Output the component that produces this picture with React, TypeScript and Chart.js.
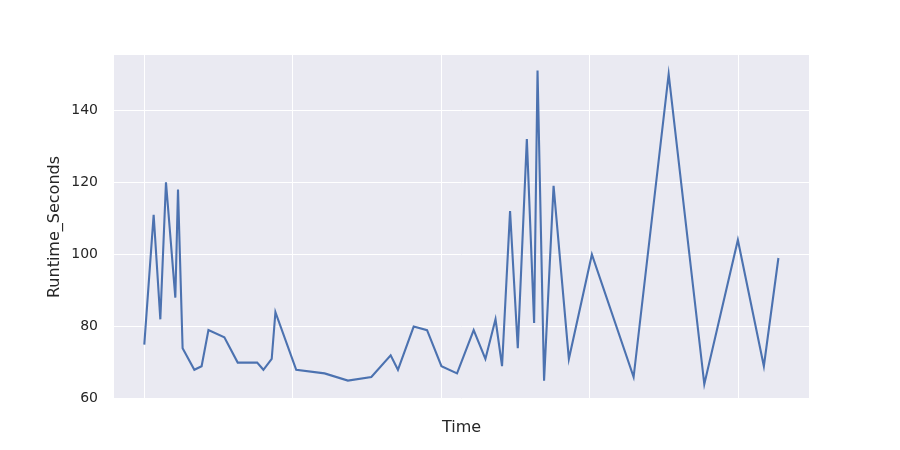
import { useEffect, useRef } from "react";
import { Chart, registerables } from "chart.js";

Chart.register(...registerables);

// time offsets (gridlines every 10 units) and runtimes
const timeOffsets = [
  0, 0.63, 1.08, 1.46, 2.09, 2.27, 2.58, 3.37, 3.86, 4.32,
  5.39, 6.29, 7.6, 8.02, 8.58, 8.83, 10.23, 12.14, 13.71, 15.29,
  16.59, 17.08, 18.14, 19.04, 20.01, 21.06, 22.18, 22.97, 23.65, 24.09,
  24.63, 25.15, 25.76, 26.25, 26.48, 26.92, 27.56, 28.59, 30.14, 32.95,
  35.31, 37.71, 39.97, 41.72, 42.7,
];
const runtimeSeconds = [
  75, 111, 82, 120, 88, 118, 74, 68, 69, 79,
  77, 70, 70, 68, 71, 84, 68, 67, 65, 66,
  72, 68, 80, 79, 69, 67, 79, 71, 82, 69,
  112, 74, 132, 81, 151, 65, 119, 71, 100, 66,
  150, 64, 104, 69, 99,
];
const yTicks = [60, 80, 100, 120, 140];

const FONT = "'DejaVu Sans', sans-serif";
const TEXT = "#262626";

const plotBackground = {
  id: "plotBackground",
  beforeDraw(chart: any) {
    const { ctx, chartArea } = chart;
    ctx.save();
    ctx.fillStyle = "#EAEAF2";
    ctx.fillRect(chartArea.left, chartArea.top, chartArea.right - chartArea.left, chartArea.bottom - chartArea.top);
    ctx.restore();
  },
};

export default function App() {
  const canvasRef = useRef<HTMLCanvasElement | null>(null);

  useEffect(() => {
    if (!canvasRef.current) return;
    const chart = new Chart(canvasRef.current, {
      type: "line",
      data: {
        datasets: [
          {
            label: "Runtime_Seconds",
            data: timeOffsets.map((t, i) => ({ x: t, y: runtimeSeconds[i] })),
            borderColor: "#4C72B0",
            borderWidth: 2.1,
            pointRadius: 0,
            tension: 0,
            fill: false,
          },
        ],
      },
      options: {
        responsive: false,
        animation: false,
        layout: { padding: { left: 0, top: 55, right: 91, bottom: 0 } },
        plugins: { legend: { display: false }, tooltip: { enabled: false } },
        scales: {
          x: {
            type: "linear",
            min: -2.04,
            max: 44.76,
            afterFit: (scale: any) => {
              scale.height = 51;
            },
            ticks: { display: false, stepSize: 10, includeBounds: false },
            grid: { color: "#ffffff", lineWidth: 1, drawTicks: false },
            border: { display: false },
            title: {
              display: true,
              text: "Time",
              color: TEXT,
              font: { family: FONT, size: 16 },
              padding: { top: 0, bottom: 12.4 },
            },
          },
          y: {
            min: 59.9,
            max: 155.3,
            afterFit: (scale: any) => {
              scale.width = 114;
            },
            afterBuildTicks: (scale: any) => {
              scale.ticks = yTicks.map((v) => ({ value: v }));
            },
            ticks: {
              color: TEXT,
              font: { family: FONT, size: 14 },
              padding: 16,
            },
            grid: { color: "#ffffff", lineWidth: 1, drawTicks: false },
            border: { display: false },
            title: {
              display: true,
              text: "Runtime_Seconds",
              color: TEXT,
              font: { family: FONT, size: 16 },
              padding: { top: 45.4, bottom: 0 },
            },
          },
        },
      },
      plugins: [plotBackground],
    });
    return () => chart.destroy();
  }, []);

  return (
    <div style={{ position: "absolute", left: 0, top: 0, width: 900, height: 450, background: "#ffffff" }}>
      <canvas ref={canvasRef} width={900} height={450} />
    </div>
  );
}
